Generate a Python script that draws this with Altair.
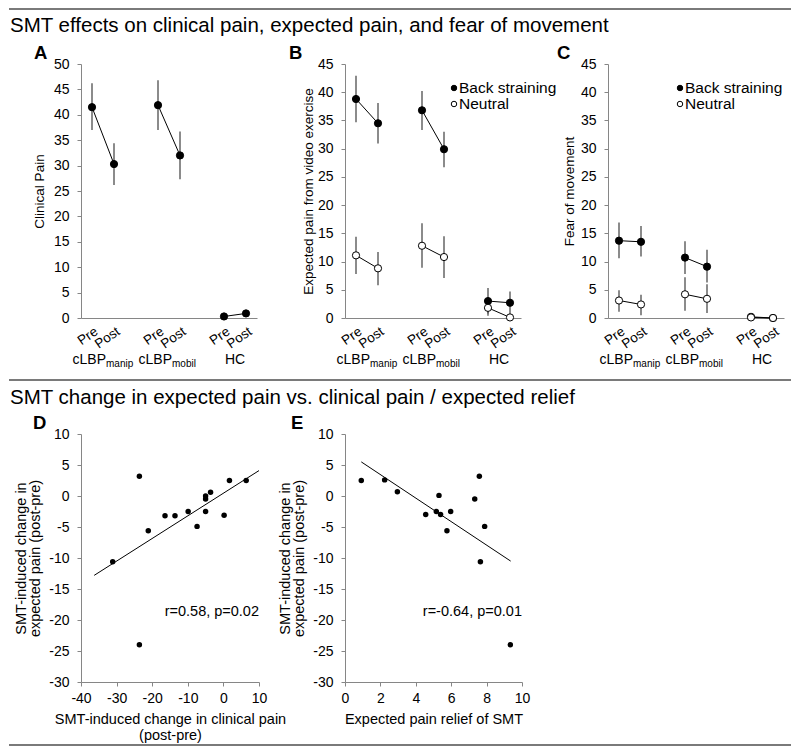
import altair as alt
import pandas as pd

FONT = "Liberation Sans"
AX = "#868686"

title_top = "SMT effects on clinical pain, expected pain, and fear of movement"
title_bottom = "SMT change in expected pain vs. clinical pain / expected relief"

times = ["Pre", "Post"]
group_main = ["cLBP", "cLBP", "HC"]
group_sub = ["manip", "mobil", ""]
series_names = ["Clinical pain", "Back straining", "Neutral"]

# Panel A: clinical pain
A_mean = [41.5, 30.3, 41.9, 32.0, 0.3, 0.9]
A_lo = [37.0, 26.2, 37.0, 27.3, 0.3, 0.9]
A_hi = [46.2, 34.4, 46.8, 36.7, 0.3, 0.9]

# Panel B: expected pain from video exercise
B_back_mean = [38.8, 34.5, 36.8, 29.9, 3.0, 2.7]
B_back_lo = [34.7, 30.9, 33.3, 26.7, 0.8, 0.6]
B_back_hi = [42.9, 38.1, 40.2, 33.0, 5.3, 4.7]
B_neu_mean = [11.1, 8.8, 12.8, 10.8, 1.8, 0.1]
B_neu_lo = [7.8, 5.8, 8.9, 7.1, 0.4, 0.1]
B_neu_hi = [14.4, 11.7, 16.8, 14.5, 3.2, 0.1]

# Panel C: fear of movement
C_back_mean = [13.7, 13.5, 10.7, 9.1, 0.2, 0.0]
C_back_lo = [10.6, 10.9, 7.8, 6.3, 0.2, 0.0]
C_back_hi = [16.9, 16.3, 13.6, 12.1, 0.2, 0.0]
C_neu_mean = [3.1, 2.4, 4.2, 3.4, 0.1, 0.0]
C_neu_lo = [1.1, 0.5, 1.3, 0.9, 0.1, 0.0]
C_neu_hi = [4.9, 4.1, 7.2, 6.0, 0.1, 0.0]

# Panel D
D_x = [-23.6, -23.6, -31.1, -21.1, -16.4, -13.6, -9.9, -7.4, -5.0, -5.0, -5.0, -3.6, 0.2, 1.7, 6.4]
D_y = [3.2, -24.0, -10.6, -5.6, -3.2, -3.2, -2.5, -4.9, 0.0, -0.5, -2.5, 0.6, -3.1, 2.5, 2.5]
D_fit_x = [-36.3, 10.0]
D_fit_y = [-12.8, 4.1]
D_note = "r=0.58, p=0.02"

# Panel E
E_x = [0.92, 2.24, 2.96, 4.56, 5.16, 5.31, 5.40, 5.97, 5.76, 7.33, 7.59, 7.89, 7.65, 9.34]
E_y = [2.5, 2.6, 0.7, -3.0, -2.5, 0.1, -3.0, -2.5, -5.6, -0.5, 3.2, -4.9, -10.6, -24.0]
E_fit_x = [0.92, 9.36]
E_fit_y = [5.5, -10.5]
E_note = "r=-0.64, p=0.01"


def series_df(name, mean, lo, hi):
    rows = []
    for k, (m, l, h) in enumerate(zip(mean, lo, hi)):
        gi, ti = divmod(k, 2)
        rows.append({"series": name, "group": gi, "time": times[ti],
                     "pos": gi * 3 + ti + 0.5, "mean": m, "lo": l, "hi": h})
    return pd.DataFrame(rows)


def one(**kw):
    return pd.DataFrame({k: [v] for k, v in kw.items()})


def text_layer(txt, x, y, size=14, align="left", baseline="alphabetic", weight="normal"):
    return alt.Chart(one(t=txt)).mark_text(
        font=FONT, fontSize=size, align=align, baseline=baseline,
        fontWeight=weight, color="black"
    ).encode(text="t:N", x=alt.value(x), y=alt.value(y))


def rule_layer(x1, x2, y):
    return alt.Chart(one(a=0)).mark_rule(color="#7a7a7a", strokeWidth=1.8).encode(
        x=alt.value(x1), x2=alt.value(x2), y=alt.value(y))


PW, PH = 176, 254
TICKFS = 14
HYPHEN = "datum.value + ''"


def time_panel(dfs, ymax, ytitle, letter, letter_x, tpad, legend_x=None, extra=()):
    df = pd.concat(dfs, ignore_index=True)
    positions = sorted(df["pos"].unique().tolist())
    label_expr = f"datum.value % 3 < 1 ? '{times[0]}' : '{times[1]}'"
    xdef = alt.X("pos:Q", scale=alt.Scale(domain=[0, 8], nice=False, zero=False),
                 axis=alt.Axis(values=positions, labelExpr=label_expr, ticks=False, tickSize=0,
                               grid=False, labelAngle=325, labelAlign="right",
                               labelBaseline="top", labelPadding=6, labelFontSize=13.5,
                               labelColor="black", title=None, domainColor=AX,
                               labelFlush=False, labelOverlap=False, labelBound=False))

    def ydef(field):
        return alt.Y(f"{field}:Q", scale=alt.Scale(domain=[0, ymax], nice=False),
                     axis=alt.Axis(values=list(range(0, ymax + 1, 5)), title=ytitle, grid=False,
                                   tickSize=4, tickColor=AX, domainColor=AX,
                                   labelFontSize=TICKFS, labelPadding=8, labelColor="black",
                                   titleFontSize=13.5, titleFontWeight="normal",
                                   titlePadding=tpad, titleColor="black"))

    base = alt.Chart(df)
    err = base.mark_rule(color="#4d4d4d", strokeWidth=1.3).encode(x=xdef, y=ydef("lo"), y2="hi:Q")
    line = base.mark_line(color="black", strokeWidth=1).encode(
        x=xdef, y=ydef("mean"), detail=["series:N", "group:N"])
    pts = base.mark_circle(size=52, opacity=1, stroke="black", strokeWidth=1).encode(
        x=xdef, y=ydef("mean"),
        fill=alt.Fill("series:N", scale=alt.Scale(domain=series_names,
                                                  range=["black", "black", "white"]), legend=None))

    gdf = pd.DataFrame({"pos": [gi * 3 + 1 for gi in range(3)], "main": group_main, "sub": group_sub})
    gbase = alt.Chart(gdf)
    gy = PH + 46
    g_main_sub = gbase.transform_filter("datum.sub != ''").mark_text(
        font=FONT, fontSize=14, align="right", baseline="alphabetic", dx=3, color="black"
    ).encode(x=xdef, y=alt.value(gy), text="main:N")
    g_sub = gbase.transform_filter("datum.sub != ''").mark_text(
        font=FONT, fontSize=10, align="left", baseline="alphabetic", dx=3, color="black"
    ).encode(x=xdef, y=alt.value(gy + 3), text="sub:N")
    g_main = gbase.transform_filter("datum.sub == ''").mark_text(
        font=FONT, fontSize=14, align="center", baseline="alphabetic", color="black"
    ).encode(x=xdef, y=alt.value(gy), text="main:N")

    layers = [err, line, pts, g_main_sub, g_sub, g_main,
              text_layer(letter, letter_x, -5, size=18.5, weight="bold")]
    if legend_x is not None:
        for i, (nm, fc) in enumerate([(series_names[1], "black"), (series_names[2], "white")]):
            ly = 24 + 16 * i
            layers.append(alt.Chart(one(a=0)).mark_circle(
                size=30, opacity=1, fill=fc, stroke="black", strokeWidth=1
            ).encode(x=alt.value(legend_x), y=alt.value(ly)))
            layers.append(text_layer(nm, legend_x + 5, ly, size=15.5, baseline="middle"))
    layers.extend(extra)
    return alt.layer(*layers).properties(width=PW, height=PH)


def scatter_panel(xs, ys, fx, fy, xdom, xstep, xtitle, ytitle, letter, letter_x, note, width, extra=()):
    pdf = pd.DataFrame({"x": xs, "y": ys})
    fdf = pd.DataFrame({"x": fx, "y": fy})
    xdef = alt.X("x:Q", scale=alt.Scale(domain=xdom, nice=False, zero=False),
                 axis=alt.Axis(values=list(range(xdom[0], xdom[1] + 1, xstep)), title=xtitle,
                               labelExpr=HYPHEN,
                               grid=False, tickSize=4, tickColor=AX, domainColor=AX,
                               labelFontSize=TICKFS, labelPadding=5, labelColor="black",
                               titleFontSize=14.5, titleFontWeight="normal", titleColor="black",
                               titlePadding=7, titleLineHeight=16, labelFlush=False))
    ydef = alt.Y("y:Q", scale=alt.Scale(domain=[-30, 10], nice=False, zero=False),
                 axis=alt.Axis(values=list(range(-30, 11, 5)), title=ytitle, grid=False,
                               labelExpr=HYPHEN,
                               tickSize=4, tickColor=AX, domainColor=AX,
                               labelFontSize=TICKFS, labelPadding=8, labelColor="black",
                               titleFontSize=14.5, titleFontWeight="normal", titleColor="black",
                               titlePadding=6, titleLineHeight=14))
    pts = alt.Chart(pdf).mark_circle(size=30, opacity=1, color="black").encode(x=xdef, y=ydef)
    fit = alt.Chart(fdf).mark_line(color="black", strokeWidth=1).encode(x=xdef, y=ydef)
    layers = [fit, pts,
              text_layer(note, width, 178, size=14.5, align="right", baseline="middle"),
              text_layer(letter, letter_x, -5, size=18.5, weight="bold")]
    layers.extend(extra)
    return alt.layer(*layers).properties(width=width, height=248)


A = time_panel([series_df(series_names[0], A_mean, A_lo, A_hi)], 50, "Clinical Pain",
               "A", -47, 7,
               extra=[rule_layer(-72, 710, -55), text_layer(title_top, -71, -32, size=20.5)])
B = time_panel([series_df(series_names[1], B_back_mean, B_back_lo, B_back_hi),
                series_df(series_names[2], B_neu_mean, B_neu_lo, B_neu_hi)],
               45, "Expected pain from video exercise", "B", -56, 2, legend_x=109)
C = time_panel([series_df(series_names[1], C_back_mean, C_back_lo, C_back_hi),
                series_df(series_names[2], C_neu_mean, C_neu_lo, C_neu_hi)],
               45, "Fear of movement", "C", -51, 4, legend_x=72)

D = scatter_panel(D_x, D_y, D_fit_x, D_fit_y, [-40, 10], 10,
                  ["SMT-induced change in clinical pain", "(post-pre)"],
                  ["SMT-induced change in", "expected pain (post-pre)"], "D", -48, D_note, 178,
                  extra=[rule_layer(-72, 710, -54), text_layer(title_bottom, -71, -30, size=20.5),
                         rule_layer(-72, 710, 311)])
E = scatter_panel(E_x, E_y, E_fit_x, E_fit_y, [0, 10], 2,
                  "Expected pain relief of SMT",
                  ["SMT-induced change in", "expected pain (post-pre)"], "E", -54, E_note, 177)

chart = alt.concat(A, B, C, D, E, columns=3, spacing={"row": 116, "column": 86},
                   bounds="flush").properties(
    padding=0, background="white"
).configure_view(stroke=None).configure_axis(labelFont=FONT, titleFont=FONT)

chart.save("out.html", embed_options={"renderer": "svg", "actions": False})
